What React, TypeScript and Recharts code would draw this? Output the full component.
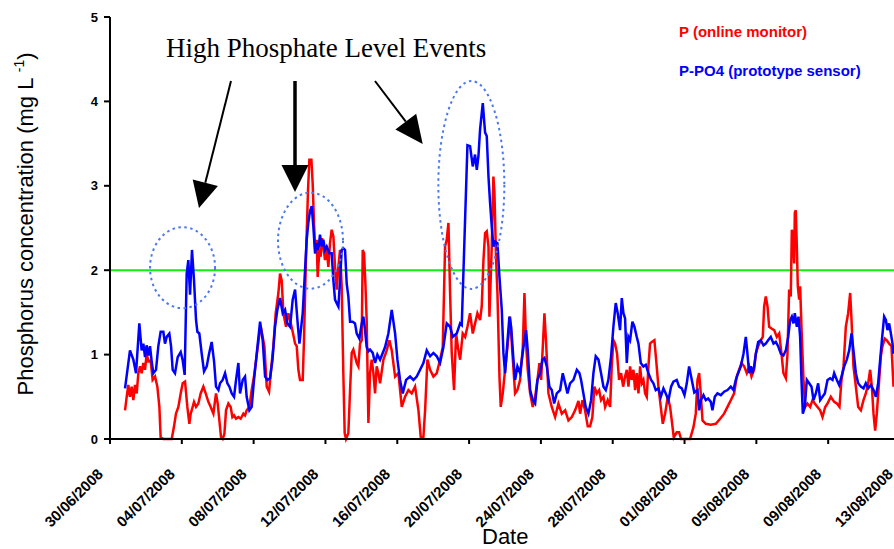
import React from "react";
import { LineChart, Line, XAxis, YAxis, ReferenceLine, ReferenceDot } from "recharts";

// time axis in hours since 30/06/2008 00:00
const tickHours = [0, 96, 192, 288, 384, 480, 576, 672, 768, 864, 960, 1056];
const tickDates = [
    "30/06/2008", "04/07/2008", "08/07/2008", "12/07/2008", "16/07/2008", "20/07/2008",
    "24/07/2008", "28/07/2008", "01/08/2008", "05/08/2008", "09/08/2008", "13/08/2008",
];
const yTicks = [0, 1, 2, 3, 4, 5];
const threshold = 2;

// P (online monitor)
const pHours = [
    20.1, 22.3, 24.5, 26.7, 29.0, 31.2, 33.4, 35.7, 37.9, 40.1, 42.3, 44.6, 46.8, 49.0, 51.3, 54.4, 57.0, 60.2, 63.3, 66.0,
    67.7, 71.3, 82.5, 85.6, 88.2, 91.4, 94.5, 97.2, 100.3, 103.4, 106.1, 107.9, 110.5, 112.3, 115.0, 118.1, 121.2, 124.8, 127.9, 131.5,
    134.6, 138.2, 141.7, 144.0, 146.2, 148.4, 150.6, 152.9, 155.1, 158.2, 161.3, 163.6, 165.8, 168.5, 171.6, 174.7, 178.3, 180.5, 182.7, 186.3,
    189.4, 192.5, 196.1, 199.2, 201.5, 204.1, 206.4, 209.5, 212.6, 215.7, 218.4, 221.5, 225.1, 227.3, 229.5, 231.8, 235.3, 238.4, 240.7, 244.2,
    247.4, 249.6, 251.8, 254.0, 257.6, 259.3, 262.0, 264.7, 266.5, 269.2, 270.9, 272.7, 274.5, 276.3, 277.6, 279.9, 281.6, 283.4, 285.2, 287.4,
    289.7, 291.9, 294.1, 296.3, 298.6, 300.8, 303.0, 305.3, 307.5, 309.7, 311.9, 313.7, 315.5, 318.6, 320.9, 323.1, 325.3, 327.5, 329.8, 332.0,
    334.2, 336.5, 337.8, 339.6, 341.4, 343.1, 345.4, 347.6, 349.8, 352.1, 354.3, 356.5, 358.7, 361.0, 365.5, 369.9, 373.5, 376.6, 381.1, 385.5,
    390.0, 394.4, 398.9, 403.3, 407.8, 412.3, 415.4, 418.9, 421.2, 424.3, 427.9, 432.3, 436.8, 441.2, 444.8, 447.9, 450.1, 452.4, 454.6, 456.8,
    459.9, 462.6, 465.7, 468.0, 471.5, 474.7, 477.8, 481.3, 484.9, 488.0, 491.1, 494.7, 496.9, 499.2, 501.4, 503.6, 505.9, 507.2, 510.3, 512.5,
    513.9, 516.1, 517.9, 520.6, 522.3, 525.0, 528.1, 531.3, 534.8, 537.9, 541.5, 544.6, 548.2, 551.8, 554.0, 556.2, 558.4, 561.6, 565.1, 568.3,
    571.4, 574.0, 576.3, 578.5, 580.7, 583.0, 586.1, 590.5, 595.0, 599.4, 603.9, 608.4, 612.8, 617.3, 621.7, 626.2, 628.4, 631.5, 635.0, 638.6,
    641.7, 644.8, 647.5, 650.6, 653.8, 656.4, 659.6, 661.8, 665.3, 668.5, 670.7, 672.9, 675.2, 677.8, 680.5, 683.2, 685.9, 688.5, 690.8, 693.0,
    695.2, 697.4, 699.7, 701.9, 704.1, 706.4, 708.6, 710.8, 713.0, 715.3, 717.5, 719.7, 721.9, 724.2, 727.7, 730.0, 733.1, 736.2, 738.9, 742.0,
    745.6, 748.7, 750.9, 753.6, 757.6, 760.7, 763.4, 775.4, 779.9, 783.0, 785.3, 787.5, 789.7, 792.0, 796.4, 803.1, 809.8, 815.6, 820.9, 825.4,
    829.8, 834.3, 837.8, 841.0, 844.1, 847.7, 851.2, 854.3, 857.5, 861.0, 863.3, 866.4, 869.9, 872.6, 874.4, 876.6, 878.9, 881.1, 884.2, 887.8,
    891.3, 894.5, 897.6, 900.2, 903.4, 905.6, 907.8, 910.0, 911.4, 913.2, 914.5, 915.4, 916.7, 918.1, 919.4, 921.2, 922.5, 924.3, 927.0, 929.2,
    932.3, 935.9, 939.0, 942.1, 945.7, 949.3, 952.4, 956.0, 959.1, 963.5, 968.0, 971.6, 975.1, 977.8, 980.5, 983.6, 986.7, 989.4, 991.2, 993.8,
    997.0, 1000.1, 1003.7, 1007.2, 1010.3, 1013.5, 1016.1, 1018.4, 1020.6, 1022.8, 1025.0, 1028.2, 1030.4, 1032.6, 1035.7, 1038.4, 1041.5, 1044.6, 1047.3,
];
const pValues = [
    0.34, 0.50, 0.64, 0.50, 0.62, 0.46, 0.64, 0.54, 0.78, 0.86, 0.78, 0.90, 0.82, 1.01, 0.92, 0.93, 0.70, 0.74, 0.62, 0.38,
    0.02, 0, 0, 0.15, 0.30, 0.38, 0.54, 0.66, 0.68, 0.38, 0.18, 0.30, 0.38, 0.44, 0.38, 0.42, 0.54, 0.62, 0.54, 0.44,
    0.38, 0.30, 0.54, 0.42, 0.22, 0.02, 0, 0.06, 0.34, 0.42, 0.38, 0.26, 0.28, 0.24, 0.26, 0.24, 0.30, 0.28, 0.34, 0.38,
    0.58, 0.74, 0.99, 1.21, 1.33, 1.21, 1.10, 0.62, 0.56, 0.86, 1.10, 1.49, 1.73, 1.96, 1.88, 1.49, 1.33, 1.49, 1.41, 1.27,
    1.13, 1.10, 0.82, 0.70, 0.70, 1.17, 2.16, 2.95, 3.31, 3.31, 3.03, 2.56, 2.20, 2.36, 1.92, 2.24, 2.16, 2.38, 2.28, 2.12,
    2.24, 2.04, 2.32, 2.48, 2.40, 2.04, 1.77, 2.04, 2.24, 1.81, 0.78, 0.07, 0, 0.07, 0.58, 1.02, 1.06, 0.98, 0.90, 0.86,
    1.13, 1.17, 2.24, 2.20, 1.84, 1.41, 0.19, 0.78, 0.94, 0.78, 0.54, 0.86, 0.78, 0.66, 0.94, 1.05, 1.17, 1.05, 0.74, 0.78,
    0.38, 0.50, 0.58, 0.54, 0.62, 0.34, 0.02, 0.02, 0.34, 0.94, 0.82, 0.74, 0.78, 0.94, 1.09, 2.28, 2.36, 2.56, 1.73, 1.02,
    0.58, 1.25, 1.05, 0.94, 1.25, 1.21, 1.33, 1.49, 1.25, 1.37, 1.49, 1.41, 1.57, 2.12, 2.44, 2.46, 2.28, 1.45, 2.28, 3.11,
    2.91, 2.12, 1.73, 0.74, 0.38, 0.54, 0.82, 1.09, 1.45, 1.02, 0.54, 0.58, 0.70, 1.09, 1.73, 1.13, 0.82, 0.54, 0.38, 0.50,
    0.70, 0.90, 0.70, 1.09, 1.49, 1.13, 0.54, 0.38, 0.26, 0.42, 0.30, 0.34, 0.22, 0.26, 0.34, 0.45, 0.30, 0.46, 0.34, 0.15,
    0.15, 0.26, 0.62, 0.54, 0.58, 0.46, 0.50, 0.38, 0.46, 0.38, 0.86, 1.17, 1.13, 1.01, 0.70, 0.78, 0.62, 0.74, 0.82, 0.62,
    0.86, 0.70, 0.82, 0.58, 0.78, 0.54, 0.86, 0.66, 0.70, 0.54, 0.50, 0.86, 1.13, 1.15, 1.17, 0.94, 0.62, 0.38, 0.18, 0.30,
    0.50, 0.38, 0.22, 0.02, 0.08, 0.08, 0, 0, 0.14, 0.30, 0.70, 0.78, 0.54, 0.22, 0.18, 0.17, 0.18, 0.24, 0.30, 0.38,
    0.46, 0.54, 0.74, 0.82, 0.90, 0.86, 0.78, 0.86, 0.74, 0.82, 1.01, 1.10, 1.17, 1.21, 1.57, 1.69, 1.57, 1.33, 1.31, 1.29,
    1.21, 1.25, 1.01, 0.78, 0.72, 1.01, 1.77, 1.69, 2.48, 2.40, 2.08, 2.68, 2.71, 2.28, 1.81, 1.65, 1.81, 1.33, 0.70, 0.38,
    0.42, 0.38, 0.46, 0.42, 0.38, 0.34, 0.26, 0.38, 0.42, 0.50, 0.44, 0.42, 0.38, 0.70, 0.86, 1.33, 1.49, 1.73, 1.41, 0.86,
    0.62, 0.38, 0.34, 0.46, 0.54, 0.66, 0.82, 0.62, 0.30, 0.10, 0.30, 0.70, 0.98, 1.10, 1.19, 1.17, 1.13, 1.10, 0.62,
];

// P-PO4 (prototype sensor)
const po4Hours = [
    20.1, 26.7, 31.2, 34.8, 39.2, 42.3, 44.6, 46.8, 49.0, 51.3, 53.5, 55.7, 57.9, 61.5, 64.6, 67.7, 71.3, 73.5, 75.8, 79.3,
    81.6, 83.8, 86.9, 90.5, 94.5, 97.2, 99.8, 102.5, 104.7, 107.0, 109.6, 112.3, 115.0, 116.8, 119.4, 122.6, 125.7, 129.3, 132.4, 135.9,
    139.1, 141.7, 144.9, 147.1, 150.6, 153.8, 156.9, 159.6, 162.7, 165.8, 168.5, 171.6, 173.8, 177.4, 180.5, 182.7, 186.3, 189.4, 192.5, 196.1,
    200.6, 204.1, 207.3, 210.4, 213.9, 217.1, 220.6, 223.7, 227.3, 230.9, 234.0, 237.1, 240.7, 244.2, 247.4, 250.5, 253.2, 257.6, 259.3, 262.9,
    265.1, 267.4, 269.6, 271.8, 274.1, 276.3, 278.5, 280.7, 283.0, 285.2, 287.4, 289.7, 293.2, 296.3, 298.6, 300.8, 303.0, 305.3, 307.5, 309.7,
    311.9, 314.2, 316.4, 318.6, 320.9, 324.4, 327.5, 329.8, 333.3, 336.5, 338.7, 340.9, 343.1, 345.4, 347.6, 351.2, 354.3, 357.4, 361.0, 367.7,
    372.1, 376.6, 381.1, 384.2, 387.7, 391.3, 395.8, 401.1, 405.6, 410.0, 414.5, 418.9, 423.4, 427.9, 432.3, 436.8, 441.2, 445.7, 450.1, 454.6,
    458.2, 463.5, 468.0, 470.2, 477.8, 481.3, 484.9, 488.0, 490.3, 492.5, 494.7, 498.3, 501.4, 503.6, 505.9, 508.1, 510.3, 512.5, 514.8, 517.9,
    520.6, 523.7, 525.9, 528.1, 530.4, 533.9, 536.2, 539.3, 541.5, 544.6, 548.2, 552.7, 556.2, 558.4, 561.6, 565.1, 568.3, 571.4, 574.9, 578.1,
    580.7, 583.9, 587.4, 590.5, 593.7, 597.2, 601.7, 605.2, 608.4, 611.5, 615.0, 619.5, 624.0, 627.5, 629.7, 632.8, 635.9, 639.5, 643.1, 646.2,
    649.3, 652.9, 656.4, 659.6, 662.7, 666.2, 669.8, 672.9, 676.0, 678.7, 681.8, 684.1, 686.3, 688.5, 690.8, 693.0, 695.2, 698.3, 701.0, 704.1,
    706.4, 709.5, 713.0, 716.2, 719.7, 723.3, 726.4, 729.5, 733.1, 736.2, 739.8, 742.9, 746.5, 750.0, 753.1, 757.6, 760.7, 764.3, 767.9, 771.0,
    774.1, 777.7, 781.0, 785.3, 787.5, 789.7, 793.3, 796.4, 799.5, 803.1, 805.3, 808.4, 812.0, 816.5, 820.9, 825.4, 829.8, 833.4, 836.5, 839.6,
    843.2, 846.8, 849.9, 852.1, 854.3, 856.6, 858.8, 861.0, 863.3, 866.4, 869.9, 873.5, 876.6, 879.7, 883.3, 886.9, 890.0, 893.1, 896.7, 900.2,
    903.4, 906.5, 909.2, 911.4, 913.6, 915.4, 918.1, 920.3, 922.5, 924.3, 926.1, 928.8, 931.4, 934.6, 937.7, 940.4, 943.5, 946.6, 949.3, 952.4,
    955.5, 959.1, 962.6, 965.8, 968.0, 971.6, 974.7, 977.8, 981.4, 984.9, 988.1, 991.2, 993.8, 997.0, 1000.1, 1003.7, 1007.2, 1010.3, 1013.5, 1017.0,
    1020.6, 1023.7, 1026.8, 1029.5, 1032.2, 1034.8, 1037.1, 1039.3, 1041.5, 1043.8, 1046.0, 1047.3,
];
const po4Values = [
    0.60, 1.05, 0.94, 0.78, 1.37, 1.05, 1.13, 0.97, 1.11, 0.99, 1.10, 0.92, 0.78, 0.82, 1.10, 1.27, 1.27, 1.13, 1.21, 1.25,
    1.10, 0.82, 0.78, 0.97, 1.03, 0.93, 0.76, 1.96, 2.12, 1.71, 2.24, 1.88, 1.41, 1.27, 1.25, 1.01, 0.80, 0.86, 1.01, 1.15,
    0.92, 0.62, 0.58, 0.66, 0.70, 0.78, 0.66, 0.62, 0.54, 0.50, 0.70, 0.90, 0.54, 0.70, 0.74, 0.50, 0.34, 0.38, 0.70, 1.01,
    1.39, 1.17, 0.74, 0.70, 0.72, 0.93, 1.33, 1.53, 1.67, 1.49, 1.53, 1.37, 1.33, 1.65, 1.77, 1.41, 1.13, 1.49, 1.77, 2.36,
    2.56, 2.70, 2.76, 2.52, 2.20, 2.32, 2.24, 2.42, 2.28, 2.36, 2.24, 2.28, 2.20, 2.20, 1.88, 1.65, 1.61, 1.57, 1.88, 2.24,
    2.26, 2.24, 1.84, 1.69, 1.39, 1.39, 1.37, 1.25, 1.19, 1.37, 1.45, 1.29, 1.09, 1.04, 1.06, 1.02, 0.90, 1.00, 0.94, 1.09,
    1.25, 1.53, 1.25, 0.94, 0.70, 0.54, 0.70, 0.74, 0.70, 0.74, 0.82, 0.90, 1.05, 0.98, 1.02, 0.98, 0.90, 1.09, 1.37, 1.33,
    1.21, 1.25, 1.37, 1.35, 3.48, 3.47, 3.23, 3.37, 3.19, 3.35, 3.67, 3.98, 3.63, 3.59, 3.11, 2.79, 2.52, 2.28, 2.34, 2.32,
    1.92, 1.53, 1.02, 0.78, 1.05, 1.45, 1.33, 0.94, 0.70, 0.86, 0.78, 1.09, 1.29, 1.05, 0.58, 0.46, 0.42, 0.70, 0.78, 0.94,
    0.96, 0.86, 0.62, 0.58, 0.42, 0.54, 0.58, 0.78, 0.66, 0.54, 0.66, 0.70, 0.82, 0.78, 0.70, 0.54, 0.38, 0.30, 0.46, 0.78,
    0.98, 0.94, 0.78, 0.62, 0.58, 0.70, 0.98, 1.33, 1.61, 1.49, 1.29, 1.67, 1.49, 1.43, 0.90, 1.21, 1.17, 1.39, 1.33, 1.21,
    1.13, 0.90, 0.86, 0.88, 0.78, 0.70, 0.66, 0.58, 0.60, 0.50, 0.60, 0.54, 0.46, 0.62, 0.68, 0.70, 0.62, 0.60, 0.52, 0.66,
    0.86, 0.70, 0.55, 0.58, 0.34, 0.46, 0.52, 0.46, 0.48, 0.44, 0.34, 0.50, 0.54, 0.52, 0.56, 0.58, 0.62, 0.58, 0.70, 0.78,
    0.86, 1.01, 1.21, 1.01, 0.78, 0.86, 0.78, 0.86, 1.01, 1.15, 1.17, 1.11, 1.13, 1.17, 1.21, 1.13, 1.15, 1.10, 1.01, 0.99,
    1.05, 1.21, 1.41, 1.45, 1.37, 1.49, 1.33, 1.45, 1.21, 0.70, 0.30, 0.38, 0.70, 0.66, 0.62, 0.46, 0.54, 0.66, 0.46, 0.50,
    0.54, 0.70, 0.72, 0.70, 0.78, 0.70, 0.64, 0.74, 0.86, 0.94, 1.05, 1.25, 1.05, 0.78, 0.66, 0.62, 0.60, 0.66, 0.60, 0.64,
    0.58, 0.50, 0.66, 0.94, 1.21, 1.45, 1.41, 1.29, 1.37, 1.25, 1.13, 1.01,
];

// circled high phosphate events (centre in hours / mg L-1)
const eventHours = [97, 268, 483];
const eventValues = [2.03, 2.35, 3.01];
const eventRx = [32.5, 32.5, 33];
const eventRy = [40.5, 48, 104];

const pData = pHours.map((t, i) => ({ t, v: pValues[i] }));
const po4Data = po4Hours.map((t, i) => ({ t, v: po4Values[i] }));

const sans = "Arial, 'Liberation Sans', sans-serif";

const DateTick = ({ x, y, payload }: any) => {
    const i = tickHours.indexOf(payload.value);
    const tx = x - 6;
    const ty = y + 31;
    return (
        <text
            x={tx}
            y={ty}
            transform={`rotate(-45, ${tx}, ${ty})`}
            textAnchor="end"
            fontFamily={sans}
            fontWeight="bold"
            fontSize={15}
            fill="#000"
        >
            {tickDates[i]}
        </text>
    );
};

const Annotations = () => (
    <svg width={894} height={549} style={{ position: "absolute", left: 0, top: 0, pointerEvents: "none" }}>
        <text x={166} y={57} fontFamily="'Times New Roman', 'Liberation Serif', serif" fontSize={27} fill="#000">
            High Phosphate Level Events
        </text>
        <line x1={231} y1={81} x2={205.3} y2={182.8} stroke="#000" strokeWidth={2} />
        <polygon points="192.7,179.6 217.9,186 199,208" fill="#000" />
        <line x1={295} y1={81} x2={295} y2={167} stroke="#000" strokeWidth={3.5} />
        <polygon points="281.5,165 308.5,165 295,192" fill="#000" />
        <line x1={375} y1={81} x2={405.8} y2={121.6} stroke="#000" strokeWidth={2} />
        <polygon points="416.2,113.8 395.4,129.4 422.7,144" fill="#000" />

        <text x={679} y={37} fontFamily={sans} fontWeight="bold" fontSize={15} fill="#ff0000">
            P (online monitor)
        </text>
        <text x={679} y={76} fontFamily={sans} fontWeight="bold" fontSize={15} fill="#0000ff">
            P-PO4 (prototype sensor)
        </text>

        <text transform="translate(33,224) rotate(-90)" textAnchor="middle" fontFamily={sans} fontSize={22} fill="#000">
            Phosphorus concentration (mg L <tspan dy={-9} fontSize={14}>-1</tspan>
            <tspan dy={9}>)</tspan>
        </text>
        <text x={482} y={544} fontFamily={sans} fontSize={22} fill="#000">
            Date
        </text>
    </svg>
);

export default function App() {
    return (
        <div style={{ position: "absolute", left: 0, top: 0, width: 894, height: 549, overflow: "hidden", background: "#fff" }}>
            <LineChart width={910} height={549} margin={{ top: 17, right: 10, bottom: 0, left: 0 }}>
                <XAxis
                    dataKey="t"
                    type="number"
                    domain={[0, 1056]}
                    ticks={tickHours}
                    interval={0}
                    height={110}
                    tickSize={5}
                    tickMargin={0}
                    axisLine={{ stroke: "#000", strokeWidth: 2 }}
                    tickLine={{ stroke: "#000", strokeWidth: 2 }}
                    tick={<DateTick />}
                />
                <YAxis
                    type="number"
                    domain={[0, 5]}
                    ticks={yTicks}
                    interval={0}
                    width={110}
                    tickSize={6}
                    tickMargin={6}
                    axisLine={{ stroke: "#000", strokeWidth: 2 }}
                    tickLine={{ stroke: "#000", strokeWidth: 2 }}
                    tick={{ fill: "#000", fontSize: 13, fontWeight: "bold", fontFamily: sans }}
                />
                <ReferenceLine y={threshold} stroke="#11ee11" strokeWidth={2} />
                <Line
                    data={pData}
                    dataKey="v"
                    type="linear"
                    stroke="#ff0000"
                    strokeWidth={2.5}
                    dot={false}
                    isAnimationActive={false}
                />
                <Line
                    data={po4Data}
                    dataKey="v"
                    type="linear"
                    stroke="#0000ff"
                    strokeWidth={2.5}
                    dot={false}
                    isAnimationActive={false}
                />
                {eventHours.map((h, i) => (
                    <ReferenceDot
                        key={`ev-${i}`}
                        x={h}
                        y={eventValues[i]}
                        r={1}
                        ifOverflow="visible"
                        shape={(p: any) => (
                            <ellipse
                                cx={p.cx}
                                cy={p.cy}
                                rx={eventRx[i]}
                                ry={eventRy[i]}
                                fill="none"
                                stroke="#4a78f0"
                                strokeWidth={2}
                                strokeDasharray="2.5 3.5"
                            />
                        )}
                    />
                ))}
            </LineChart>
            <Annotations />
        </div>
    );
}
